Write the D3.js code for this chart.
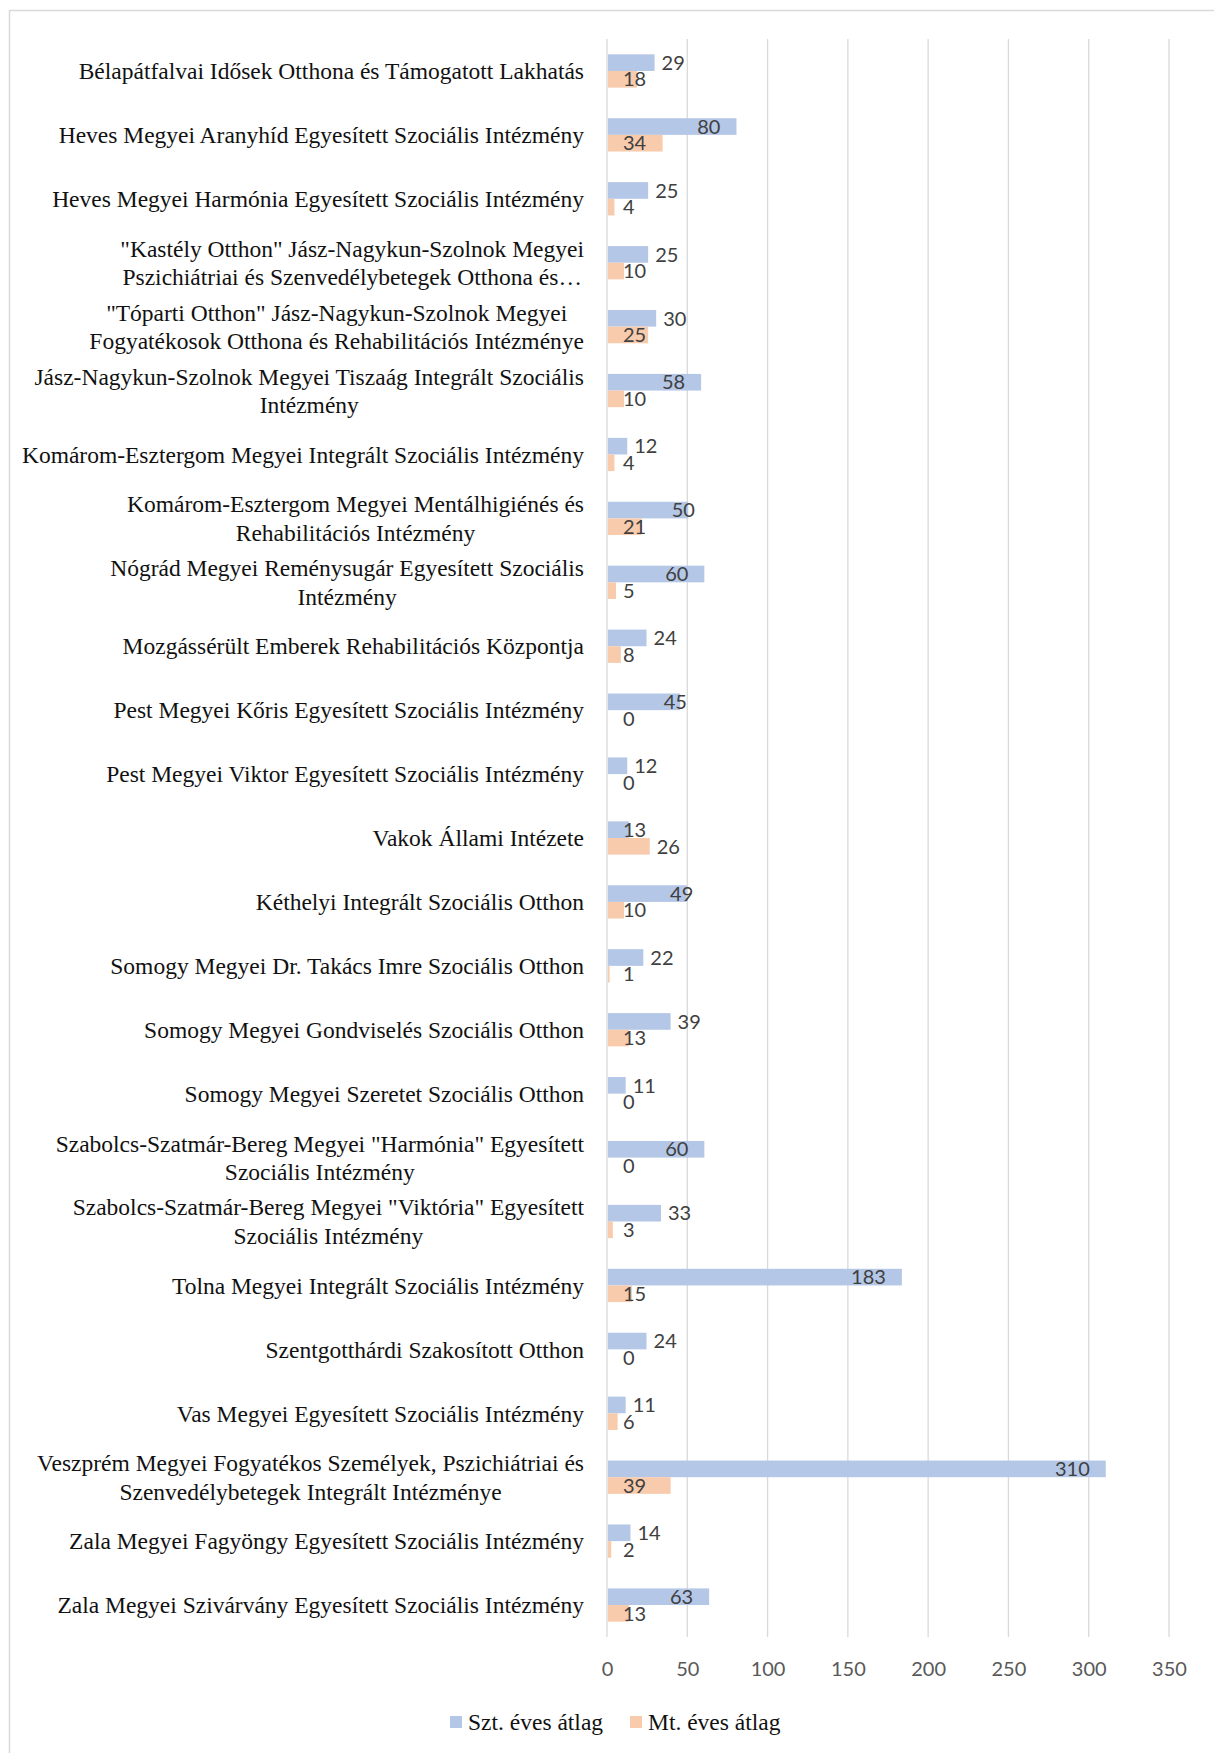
<!DOCTYPE html>
<html>
<head>
<meta charset="utf-8">
<script src="https://cdn.jsdelivr.net/npm/d3@7"></script>
<style>
  body { margin: 0; background: #fff; }
</style>
</head>
<body>
<div id="wrapper"></div>
<script>

const categories = [
    "Bélapátfalvai Idősek Otthona és Támogatott Lakhatás",
    "Heves Megyei Aranyhíd Egyesített Szociális Intézmény",
    "Heves Megyei Harmónia Egyesített Szociális Intézmény",
    "\"Kastély Otthon\" Jász-Nagykun-Szolnok Megyei\nPszichiátriai és Szenvedélybetegek Otthona és…",
    "\"Tóparti Otthon\" Jász-Nagykun-Szolnok Megyei\nFogyatékosok Otthona és Rehabilitációs Intézménye",
    "Jász-Nagykun-Szolnok Megyei Tiszaág Integrált Szociális\nIntézmény",
    "Komárom-Esztergom Megyei Integrált Szociális Intézmény",
    "Komárom-Esztergom Megyei Mentálhigiénés és\nRehabilitációs Intézmény",
    "Nógrád Megyei Reménysugár Egyesített Szociális\nIntézmény",
    "Mozgássérült Emberek Rehabilitációs Központja",
    "Pest Megyei Kőris Egyesített Szociális Intézmény",
    "Pest Megyei Viktor Egyesített Szociális Intézmény",
    "Vakok Állami Intézete",
    "Kéthelyi Integrált Szociális Otthon",
    "Somogy Megyei Dr. Takács Imre Szociális Otthon",
    "Somogy Megyei Gondviselés Szociális Otthon",
    "Somogy Megyei Szeretet Szociális Otthon",
    "Szabolcs-Szatmár-Bereg Megyei \"Harmónia\" Egyesített\nSzociális Intézmény",
    "Szabolcs-Szatmár-Bereg Megyei \"Viktória\" Egyesített\nSzociális Intézmény",
    "Tolna Megyei Integrált Szociális Intézmény",
    "Szentgotthárdi Szakosított Otthon",
    "Vas Megyei Egyesített Szociális Intézmény",
    "Veszprém Megyei Fogyatékos Személyek, Pszichiátriai és\nSzenvedélybetegek Integrált Intézménye",
    "Zala Megyei Fagyöngy Egyesített Szociális Intézmény",
    "Zala Megyei Szivárvány Egyesített Szociális Intézmény"
];

const sztValues = [29, 80, 25, 25, 30, 58, 12, 50, 60, 24, 45, 12, 13, 49, 22, 39, 11, 60, 33, 183, 24, 11, 310, 14, 63];
const mtValues = [18, 34, 4, 10, 25, 10, 4, 21, 5, 8, 0, 0, 26, 10, 1, 13, 0, 0, 3, 15, 0, 6, 39, 2, 13];

const seriesNames = ["Szt. éves átlag", "Mt. éves átlag"];
const seriesColors = ["#b4c7e7", "#f8cbad"];
const xTicks = [0, 50, 100, 150, 200, 250, 300, 350];

const numFont = "Lato, 'Open Sans', sans-serif";
const textFont = "'Liberation Serif', 'DejaVu Serif', serif";

function drawBars() {

    const dataset = categories.map((c, i) => ({
        category: c,
        values: [sztValues[i], mtValues[i]]
    }));

    //chart dimensions
    const dimensions = {
        width: 1214,
        height: 1753,
        margin: {
            top: 39,
            right: 45,
            bottom: 116,
            left: 607
        }
    };
    dimensions.boundedWidth = dimensions.width - dimensions.margin.left - dimensions.margin.right;
    dimensions.boundedHeight = dimensions.height - dimensions.margin.top - dimensions.margin.bottom;

    const wrapper = d3.select("#wrapper")
        .append("svg")
        .attr("width", dimensions.width)
        .attr("height", dimensions.height);

    // outer frame
    wrapper.append("rect")
        .attr("x", 9.5)
        .attr("y", 10.5)
        .attr("width", 1300)
        .attr("height", 1800)
        .attr("fill", "none")
        .attr("stroke", "#d9d9d9")
        .attr("stroke-width", 1.5);

    const bounds = wrapper.append("g")
        .attr("transform", `translate(${dimensions.margin.left},${dimensions.margin.top})`);

    const xScale = d3.scaleLinear()
        .domain([0, 350])
        .range([0, dimensions.boundedWidth]);

    const yScale = d3.scaleBand()
        .domain(categories)
        .range([0, dimensions.boundedHeight]);

    const seriesScale = d3.scaleBand()
        .domain([0, 1])
        .range([0, yScale.bandwidth()])
        .paddingOuter(0.92);

    // gridlines
    bounds.append("g")
        .selectAll("line")
        .data(xTicks)
        .join("line")
        .attr("x1", d => xScale(d))
        .attr("x2", d => xScale(d))
        .attr("y1", 0)
        .attr("y2", dimensions.boundedHeight)
        .attr("stroke", "#d9d9d9")
        .attr("stroke-width", 1.3);

    // x axis labels
    const xAxisGenerator = d3.axisBottom(xScale)
        .tickValues(xTicks)
        .tickSize(0)
        .tickPadding(25);
    const xAxis = bounds.append("g")
        .attr("transform", `translate(0,${dimensions.boundedHeight})`)
        .call(xAxisGenerator);
    xAxis.select(".domain").remove();
    xAxis.selectAll("text")
        .attr("font-family", numFont)
        .attr("font-size", 20)
        .attr("fill", "#595959");

    // bars
    const groups = bounds.selectAll(".group")
        .data(dataset)
        .join("g")
        .attr("class", "group")
        .attr("transform", d => `translate(0,${yScale(d.category)})`);

    groups.selectAll("rect")
        .data(d => d.values.map((v, i) => ({ v, i })))
        .join("rect")
        .attr("x", xScale(0) + 1)
        .attr("y", d => seriesScale(d.i))
        .attr("width", d => Math.max(0, xScale(d.v) - xScale(0)))
        .attr("height", seriesScale.bandwidth())
        .attr("fill", d => seriesColors[d.i]);

    // data labels
    groups.selectAll(".lbl")
        .data(d => d.values.map((v, i) => ({ v, i, other: d.values[1 - i] })))
        .join("text")
        .attr("class", "lbl")
        .attr("y", d => seriesScale(d.i) + seriesScale.bandwidth() / 2)
        .attr("dy", "0.36em")
        .attr("font-family", numFont)
        .attr("font-size", 20)
        .attr("fill", "#404040")
        .each(function (d) {
            const t = d3.select(this);
            const end = xScale(d.v);
            if (d.i === 1) {
                // Mt. labels sit near the base, unless they would hit the Szt. label
                if (d.v > d.other && d.other < 40) {
                    t.attr("x", end + 8).attr("text-anchor", "start");
                } else {
                    t.attr("x", xScale(0) + 16).attr("text-anchor", "start");
                }
            } else if (d.v >= 55) {
                t.attr("x", end - 15).attr("text-anchor", "end");
            } else if (d.v >= 40) {
                t.attr("x", end - 4).attr("text-anchor", "middle");
            } else if (d.v < d.other) {
                t.attr("x", xScale(0) + 16).attr("text-anchor", "start");
            } else {
                t.attr("x", end + 8).attr("text-anchor", "start");
            }
        })
        .text(d => d.v);

    // category labels
    const catLabels = bounds.selectAll(".cat")
        .data(categories)
        .join("text")
        .attr("class", "cat")
        .attr("font-family", textFont)
        .attr("font-size", 23.5)
        .attr("fill", "#111")
        .attr("text-anchor", "middle");

    catLabels.each(function (d) {
        const t = d3.select(this);
        const lines = d.split("\n");
        const cy = yScale(d) + yScale.bandwidth() / 2;
        lines.forEach((line, i) => {
            t.append("tspan")
                .attr("y", cy + (i - (lines.length - 1) / 2) * 28.5)
                .attr("dy", "0.35em")
                .text(line);
        });
        const w = d3.max(t.selectAll("tspan").nodes(), n => n.getComputedTextLength());
        t.selectAll("tspan").attr("x", -23 - w / 2);
    });

    // legend
    const legend = wrapper.append("g")
        .attr("transform", "translate(0,1722)");
    const legendX = [450, 630];
    const items = legend.selectAll("g")
        .data(seriesNames)
        .join("g")
        .attr("transform", (d, i) => `translate(${legendX[i]},0)`);
    items.append("rect")
        .attr("x", 0)
        .attr("y", -6)
        .attr("width", 12)
        .attr("height", 12)
        .attr("fill", (d, i) => seriesColors[i]);
    items.append("text")
        .attr("x", 18)
        .attr("dy", "0.35em")
        .attr("font-family", textFont)
        .attr("font-size", 23.5)
        .attr("fill", "#111")
        .text(d => d);
}

drawBars();
</script>
</body>
</html>
